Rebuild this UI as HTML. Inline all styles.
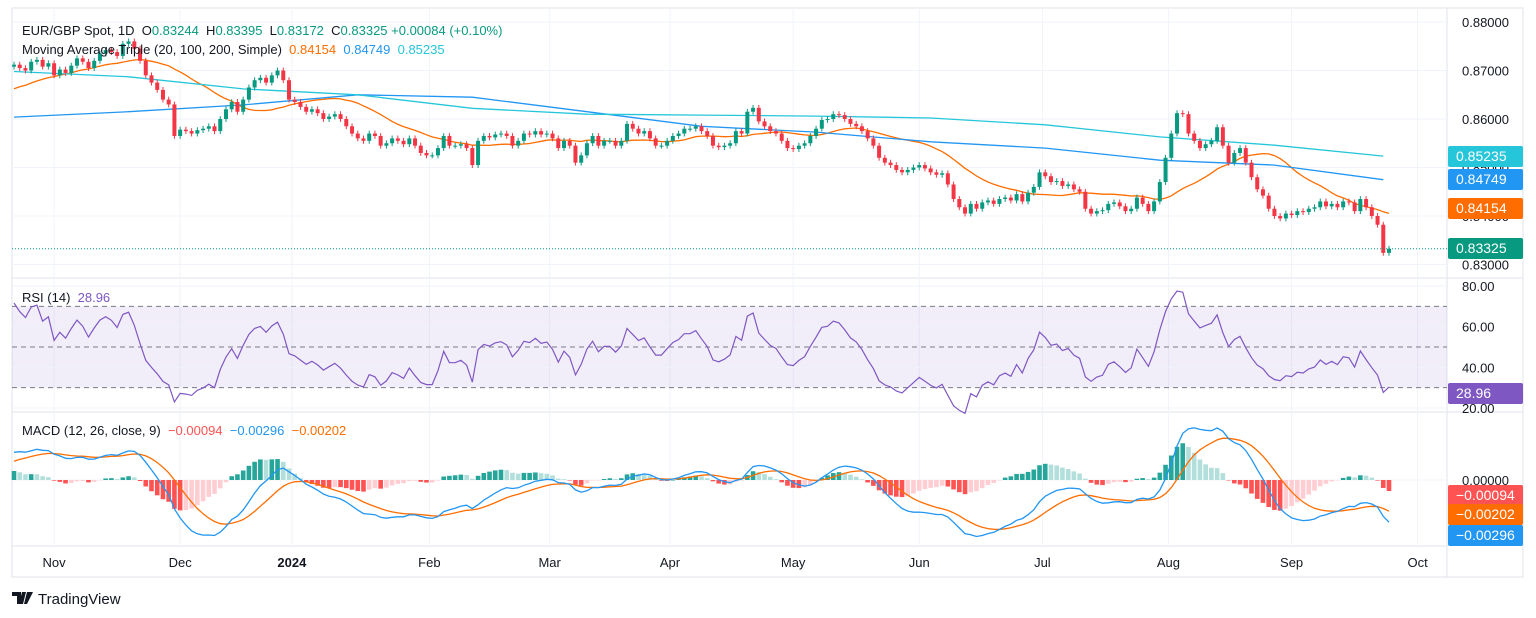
<!DOCTYPE html>
<html><head><meta charset="utf-8"><style>
body{margin:0;background:#fff;width:1536px;height:618px;overflow:hidden;font-family:"Liberation Sans",sans-serif}
svg{display:block}
</style></head><body>
<svg id="c" width="1536" height="618" xmlns="http://www.w3.org/2000/svg" font-family="Liberation Sans, sans-serif"></svg>
<script>
const preCloses=[0.8630,0.8625,0.8640,0.8645,0.8635,0.8640,0.8650,0.8660,0.8655,0.8650,0.8630,0.8625,0.8635,0.8630,0.8640,0.8635,0.8645,0.8650,0.8640,0.8655,0.8660,0.8650,0.8665,0.8670,0.8660,0.8675,0.8690,0.8700,0.8705,0.8708];
const closes=[
0.8712,0.8705,0.8700,0.8718,0.8722,0.8708,0.8715,0.8690,0.8702,0.8695,0.8710,0.8725,0.8718,0.8705,0.8720,0.8735,0.8742,0.8738,0.8730,0.8755,0.8760,
0.8745,0.8720,0.8690,0.8675,0.8660,0.8640,0.8630,0.8565,
0.8578,0.8575,0.8570,0.8577,0.8580,0.8585,0.8575,0.8600,
0.8620,0.8635,0.8615,0.8640,0.8665,0.8680,0.8685,0.8675,0.8690,0.8700,0.8680,
0.8640,0.8635,0.8625,0.8615,0.8620,0.8612,0.8600,0.8605,0.8610,0.8600,0.8585,0.8570,0.8560,0.8555,
0.8570,0.8565,0.8545,0.8550,0.8560,0.8555,0.8548,0.8560,0.8545,0.8530,0.8525,0.8525,0.8540,0.8565,0.8545,0.8545,0.8548,0.8540,0.8505,0.8555,0.8565,0.8562,0.8568,0.8570,0.8565,0.8545,0.8555,0.8570,0.8568,0.8575,0.8568,0.8570,0.8560,0.8540,0.8555,0.8545,0.8510,0.8525,0.8550,0.8565,0.8545,0.8555,0.8555,0.8545,0.8555,0.8590,0.8580,0.8570,0.8575,0.8560,0.8545,0.8545,0.8555,0.8565,0.8570,0.8580,0.8580,0.8585,0.8575,0.8565,0.8545,0.8542,0.8545,0.8550,0.8575,0.8570,
0.8615,0.8623,0.8595,0.8585,0.8575,0.8570,0.8555,0.8540,0.8538,0.8545,0.8550,0.8565,0.8580,0.8598,0.8600,0.8610,0.8608,0.8600,0.8590,0.8585,
0.8575,0.8560,0.8545,0.8520,0.8510,0.8505,0.8495,0.8490,0.8495,0.8500,0.8505,0.8498,0.8490,0.8485,0.8488,0.8465,
0.8435,0.8418,0.8405,0.8425,0.8415,0.8428,0.8432,0.8425,0.8435,0.8438,0.8432,0.8445,0.8430,0.8448,0.8460,0.8490,
0.8482,0.8470,0.8472,0.8462,0.8465,0.8455,0.8450,0.8415,0.8405,0.8410,0.8412,0.8425,0.8428,0.8420,0.8410,0.8415,
0.8438,0.8425,0.8410,0.8430,0.8470,0.8520,0.8570,0.8612,0.8610,0.8570,0.8555,0.8540,0.8548,0.8555,0.8583,0.8545,0.8510,0.8530,0.8540,0.8510,
0.8480,0.8455,0.8442,0.8415,0.8400,0.8395,0.8405,0.8402,0.8410,0.8408,0.8415,0.8418,0.8430,0.8420,0.8425,0.8418,0.8430,0.8428,0.8410,0.8435,0.8418,0.8400,0.8382,0.8324,0.83325];
const maIdx=[0,20,40,60,80,100,120,140,160,180,200,220,239];
const ma100=[0.8604,0.8615,0.8629,0.8650,0.8645,0.8615,0.8585,0.8573,0.8553,0.8540,0.8515,0.8505,0.84749];
const ma200=[0.8698,0.8687,0.8662,0.8650,0.8622,0.8610,0.8608,0.8606,0.8602,0.8588,0.8563,0.8546,0.85235];
const months=["Nov","Dec","2024","Feb","Mar","Apr","May","Jun","Jul","Aug","Sep","Oct"];
const monthIdx=[7,29,48.5,72.5,93.5,114.5,136,158,179.5,201.5,223,245];
const priceTicks=[0.88,0.87,0.86,0.85,0.84,0.83];
const rsiTicks=[80,60,40,20];

const S=document.getElementById('c');const NS='http://www.w3.org/2000/svg';
function el(t,a,p){const e=document.createElementNS(NS,t);for(const k in a)e.setAttribute(k,a[k]);(p||S).appendChild(e);return e;}
function txt(x,y,s,a){const e=el('text',Object.assign({x:x,y:y,'font-size':13,fill:'#131722'},a||{}));e.textContent=s;return e;}
const N=closes.length;
const X=i=>14+i*(1375/(N-1));
const Y=p=>22+(0.88-p)*4850;
const RY=v=>286+(80-v)*2.033;
const MY=v=>480-v*15600;

el('rect',{x:12,y:8,width:1511,height:569,fill:'none',stroke:'#e0e3eb'});
el('line',{x1:1447,y1:8,x2:1447,y2:577,stroke:'#e0e3eb'});
el('line',{x1:12,y1:278,x2:1523,y2:278,stroke:'#e0e3eb'});
el('line',{x1:12,y1:412,x2:1523,y2:412,stroke:'#e0e3eb'});
el('line',{x1:12,y1:546,x2:1447,y2:546,stroke:'#e0e3eb'});
monthIdx.forEach((m,k)=>{const x=X(m);
 const g=el('line',{x1:x,y1:8,x2:x,y2:546,stroke:'#f0f3fa'});
 
 const t=txt(x,567,months[k],{'text-anchor':'middle','font-weight':months[k]==='2024'?'bold':'normal'});
 });
priceTicks.forEach(p=>{const y=Y(p);el('line',{x1:12,y1:y,x2:1447,y2:y,stroke:'#f0f3fa'});
 const t=txt(1462,y+5,p.toFixed(5));});

function sma(arr,n,i){let s=0,c=0;for(let k=i-n+1;k<=i;k++){if(k>=0){s+=arr[k];c++;}}return s/c;}
const all=preCloses.concat(closes);const P=preCloses.length;
let d='';for(let i=0;i<N;i++){d+=(i?'L':'M')+X(i).toFixed(1)+','+Y(sma(all,20,i+P)).toFixed(1);}
const m20=el('path',{d:d,fill:'none',stroke:'#ff6d00','stroke-width':1.3});
function poly(vals,color,name){let d='';vals.forEach((v,k)=>{d+=(k?'L':'M')+X(maIdx[k]).toFixed(1)+','+Y(v).toFixed(1);});
 const e=el('path',{d:d,fill:'none',stroke:color,'stroke-width':1.3});}
poly(ma100,'#2196f3','ma100-line');poly(ma200,'#26c6da','ma200-line');

for(let i=0;i<N;i++){const o=all[i+P-1],c=closes[i];const up=c>=o;const col=up?'#089981':'#f23645';
 const hi=Math.max(o,c)+0.0006,lo=Math.min(o,c)-0.0006;const x=X(i);
 const g=el('g',{});
 el('line',{x1:x,y1:Y(hi),x2:x,y2:Y(lo),stroke:col},g);
 const yt=Y(Math.max(o,c)),yb=Y(Math.min(o,c));
 el('rect',{x:x-2,y:yt,width:4,height:Math.max(1,yb-yt),fill:col},g);}
const lastY=Y(closes[N-1]);
el('line',{x1:12,y1:lastY,x2:1447,y2:lastY,stroke:'#089981','stroke-dasharray':'1 2'});

const rsi=[];let ag=0,al=0;
for(let i=1;i<all.length;i++){const ch=all[i]-all[i-1];const g=Math.max(ch,0),l=Math.max(-ch,0);
 if(i<=14){ag+=g/14;al+=l/14;}else{ag=(ag*13+g)/14;al=(al*13+l)/14;}
 if(i>=P)rsi.push(al===0?100:100-100/(1+ag/al));}
el('rect',{x:12,y:RY(70),width:1435,height:RY(30)-RY(70),fill:'rgba(126,87,194,0.1)'});
rsiTicks.forEach(v=>{el('line',{x1:12,y1:RY(v),x2:1447,y2:RY(v),stroke:'#f0f3fa'});
 const t=txt(1462,RY(v)+5,v.toFixed(2));});
[70,50,30].forEach(v=>el('line',{x1:12,y1:RY(v),x2:1447,y2:RY(v),stroke:'#787b86','stroke-dasharray':'5 4'}));
d='';rsi.forEach((v,i)=>{d+=(i?'L':'M')+X(i).toFixed(1)+','+RY(v).toFixed(1);});
const rl=el('path',{d:d,fill:'none',stroke:'#7e57c2','stroke-width':1.2});

let e12=all[0],e26=all[0],sig=0;const mac=[],sg=[];
for(let i=0;i<all.length;i++){e12+= (all[i]-e12)*2/13;e26+=(all[i]-e26)*2/27;const m=e12-e26;sig+=(m-sig)*2/10;if(i>=P){mac.push(m);sg.push(sig);}}
el('line',{x1:12,y1:MY(0),x2:1447,y2:MY(0),stroke:'#f0f3fa'});
for(let i=0;i<N;i++){const h=mac[i]-sg[i];const ph=i?mac[i-1]-sg[i-1]:h;
 const col=h>=0?(h>=ph?'#26a69a':'#b2dfdb'):(h<ph?'#ff5252':'#ffcdd2');
 const y0=MY(0),y1=MY(h);const r=el('rect',{x:X(i)-2.3,y:Math.min(y0,y1),width:4.6,height:Math.max(0.5,Math.abs(y1-y0)),fill:col});
 }
function line(arr,color,name){let d='';arr.forEach((v,i)=>{d+=(i?'L':'M')+X(i).toFixed(1)+','+MY(v).toFixed(1);});
 const e=el('path',{d:d,fill:'none',stroke:color,'stroke-width':1.3});}
line(sg,'#ff6d00','macd-signal-line');line(mac,'#2196f3','macd-line');
const z=txt(1462,485,'0.00000');

function badge(y,bg,s,name){const g=el('g',{});
 el('rect',{x:1448,y:y-10,width:75,height:21,fill:bg,rx:2},g);const t=txt(1456,y+5,s,{fill:'#fff','font-size':14});g.appendChild(t);}
badge(156,'#26c6da','0.85235','ma200-badge');badge(179,'#2196f3','0.84749','ma100-badge');
badge(208,'#ff6d00','0.84154','ma20-badge');badge(248,'#089981','0.83325','last-price-badge');
badge(393,'#7e57c2','28.96','rsi-badge');
badge(495,'#ff5252','\u22120.00094','histogram-badge');badge(514,'#ff6d00','\u22120.00202','signal-badge');badge(535,'#2196f3','\u22120.00296','macd-badge');

const h1=el('text',{x:22,y:35,'font-size':13,fill:'#131722'});
h1.innerHTML='EUR/GBP Spot, 1D &#160;O<tspan fill="#089981">0.83244</tspan> &#160;H<tspan fill="#089981">0.83395</tspan> &#160;L<tspan fill="#089981">0.83172</tspan> &#160;C<tspan fill="#089981">0.83325 +0.00084 (+0.10%)</tspan>';
const h2=el('text',{x:22,y:54,'font-size':13,fill:'#131722'});
h2.innerHTML='Moving Average Triple (20, 100, 200, Simple) &#160;<tspan fill="#ff6d00">0.84154</tspan> &#160;<tspan fill="#2196f3">0.84749</tspan> &#160;<tspan fill="#26c6da">0.85235</tspan>';
const h3=el('text',{x:22,y:302,'font-size':13,fill:'#131722'});
h3.innerHTML='RSI (14) &#160;<tspan fill="#7e57c2">28.96</tspan>';
const h4=el('text',{x:22,y:435,'font-size':13,fill:'#131722'});
h4.innerHTML='MACD (12, 26, close, 9) &#160;<tspan fill="#ff5252">\u22120.00094</tspan> &#160;<tspan fill="#2196f3">\u22120.00296</tspan> &#160;<tspan fill="#ff6d00">\u22120.00202</tspan>';
const lg=el('g',{});
el('path',{d:'M12 592h9v12h-4v-8h-5z M22 592h4l-3 12h-4z M27 592h6l-6 12h-3z',fill:'#131722'},lg);
const lt=txt(38,604,'TradingView',{'font-size':15});lg.appendChild(lt);
</script>
</body></html>
